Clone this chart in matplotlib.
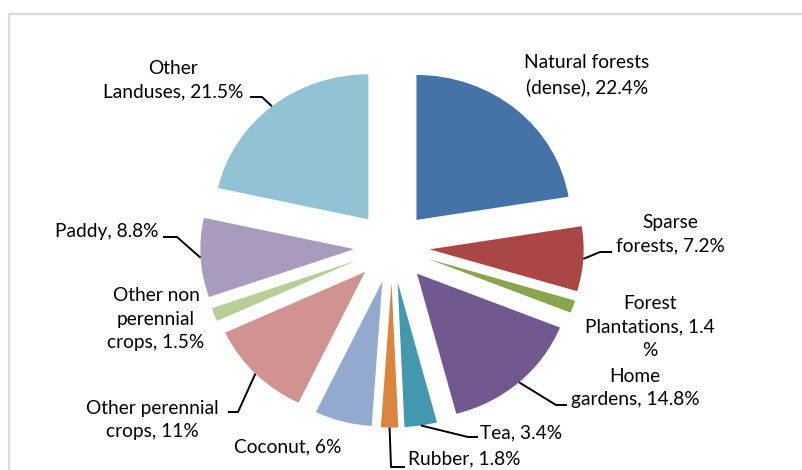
import matplotlib
matplotlib.use('Agg')
import matplotlib.pyplot as plt
import numpy as np
from matplotlib.lines import Line2D

# данные диаграммы (по часовой стрелке от 12 часов)
categories = ['Natural forests', 'Sparse forests', 'Forest Plantations', 'Home gardens',
              'Tea', 'Rubber', 'Coconut', 'Other perennial crops',
              'Other non perennial crops', 'Paddy', 'Other Landuses']
shares = [22.4, 7.2, 1.4, 14.8, 3.4, 1.8, 6, 11, 1.5, 8.8, 21.5]
label_texts = ['Natural forests\n(dense), 22.4%', 'Sparse\nforests, 7.2%',
               'Forest\nPlantations, 1.4\n%', 'Home\ngardens, 14.8%',
               'Tea, 3.4%', 'Rubber, 1.8%', 'Coconut, 6%',
               'Other perennial\ncrops, 11%', 'Other non\nperennial\ncrops, 1.5%',
               'Paddy, 8.8%', 'Other\nLanduses, 21.5%']
colors = ['#4572A7', '#AA4643', '#89A54E', '#71588F', '#4198AF', '#DB843D',
          '#93A9CF', '#D19392', '#B9CD96', '#A99BBD', '#92C3D5']

# геометрия в пикселях картинки
CX, CY = 392, 247   # центр круга
RX, RY = 154, 145   # радиусы по горизонтали и вертикали
W, H = 803, 470


def px(x, y):
    # пиксели -> координаты осей
    return (x - CX) / RX, (CY - y) / RY


# центры подписей (пиксели) и выравнивание
label_pos = [(587, 75, 'center'), (670, 234, 'center'), (650, 327, 'center'),
             (635, 388, 'center'), (480, 433, 'left'), (408, 459, 'left'),
             (288, 447, 'center'), (152, 420, 'center'), (156, 319, 'center'),
             (107, 232, 'center'), (173, 80, 'center')]
# выноски: излом и конец у подписи (пиксели), None - без выноски
leaders = [None, [(600, 252), (612, 252)], None, [(556, 405), (567, 405)],
           [(468, 437), (478, 437)], [(391, 467), (405, 467)], None,
           [(238, 412), (228, 412)], None, [(177, 237), (163, 237)],
           [(262, 97), (250, 97)]]

plt.rcParams['font.family'] = ['Lato', 'DejaVu Sans']

fig = plt.figure(figsize=(W / 100, H / 100), dpi=100)
ax = fig.add_axes([0, 0, 1, 1])

wedges, _ = ax.pie(shares, colors=colors, startangle=90, counterclock=False,
                   explode=[0.245] * len(shares), radius=1,
                   wedgeprops=dict(linewidth=0))
ax.set_aspect('auto')
ax.set_xlim(px(0, 0)[0], px(W, 0)[0])
ax.set_ylim(px(0, H)[1], px(0, 0)[1])
ax.axis('off')

# подписи и выноски
for w, txt, (lx, ly, ha), ld in zip(wedges, label_texts, label_pos, leaders):
    x, y = px(lx, ly)
    ax.text(x, y, txt, ha=ha, va='center', fontsize=13.8, color='black',
            linespacing=1.45, clip_on=False)
    if ld is None:
        continue
    mid = np.deg2rad((w.theta1 + w.theta2) / 2)
    ax0 = w.center[0] + w.r * np.cos(mid)
    ay0 = w.center[1] + w.r * np.sin(mid)
    pts = [px(*p) for p in ld]
    xs = [ax0] + [p[0] for p in pts]
    ys = [ay0] + [p[1] for p in pts]
    ax.plot(xs, ys, color='black', lw=1.4, solid_capstyle='butt')

# рамка области диаграммы
fig.add_artist(Line2D([9 / W, 9 / W, 1], [0, 1 - 14 / H, 1 - 14 / H],
                      transform=fig.transFigure, color='#DCDCDC', lw=1.6))

fig.savefig('out.png', dpi=100, facecolor='white')
